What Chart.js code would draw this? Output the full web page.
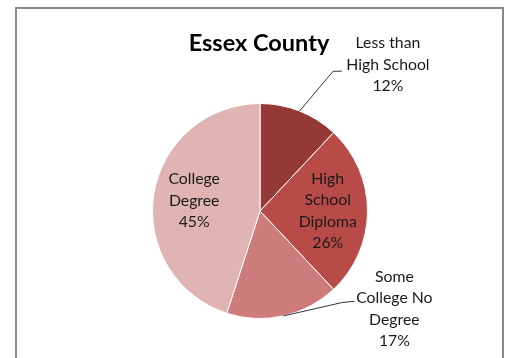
<!DOCTYPE html>
<html>
<head>
<meta charset="utf-8">
<script src="https://cdn.jsdelivr.net/npm/chart.js@4"></script>
<style>
  html, body { margin: 0; padding: 0; background: #fff; }
  #wrap { position: relative; width: 509px; height: 358px; }
  #frame { position: absolute; left: 15px; top: 7px; width: 485px; height: 360px;
           border: 2px solid #8a8a8a; border-bottom: none; box-sizing: content-box; }
  canvas { position: absolute; left: 0; top: 0; }
</style>
</head>
<body>
<div id="wrap">
  <div id="frame"></div>
  <canvas id="c" width="509" height="358"></canvas>
</div>
<script>
const chartTitle = "Essex County";
const categories = [
  ["Less than", "High School"],
  ["High", "School", "Diploma"],
  ["Some", "College No", "Degree"],
  ["College", "Degree"]
];
const shares = [12, 26, 17, 45];
const sliceColors = ["#953937", "#B84A48", "#CE7C7B", "#E0B4B3"];

// label placement (style/layout, not data): inside -> fraction of radius along mid-angle;
// outside -> label centre offset from pie centre (in radii) and leader-line elbow
const labelLayout = [
  { outside: true, dx: 1.19, dy: -1.36, elbow: [0.68, -1.30], end: [0.76, -1.30] },
  { outside: false, r: 0.63 },
  { outside: true, dx: 1.25, dy: 0.91, elbow: [0.77, 0.85], end: [0.88, 0.84] },
  { outside: false, r: 0.62 }
];

const FONT = "Lato, 'Open Sans', sans-serif";
const TEXT = "#1a1a1a";

const labelPlugin = {
  id: 'pieLabels',
  afterDraw(chart) {
    const ctx = chart.ctx;
    const meta = chart.getDatasetMeta(0);
    const total = shares.reduce((a, b) => a + b, 0);
    ctx.save();
    // title
    ctx.fillStyle = "#000";
    ctx.font = "bold 23.5px " + FONT;
    ctx.textAlign = "center";
    ctx.textBaseline = "middle";
    ctx.fillText(chartTitle, 259, 43);

    ctx.font = "15.8px " + FONT;
    const lh = 21.5;
    meta.data.forEach((arc, i) => {
      const p = arc.getProps(['x', 'y', 'startAngle', 'endAngle', 'outerRadius'], true);
      const R = p.outerRadius;
      const mid = (p.startAngle + p.endAngle) / 2;
      const L = labelLayout[i];
      const lines = categories[i].concat([Math.round(shares[i] / total * 100) + "%"]);
      let cx, cy;
      if (L.outside) {
        cx = p.x + L.dx * R;
        cy = p.y + L.dy * R;
        // leader line
        ctx.strokeStyle = "#333";
        ctx.lineWidth = 1;
        ctx.beginPath();
        ctx.moveTo(p.x + Math.cos(mid) * R, p.y + Math.sin(mid) * R);
        ctx.lineTo(p.x + L.elbow[0] * R, p.y + L.elbow[1] * R);
        ctx.lineTo(p.x + L.end[0] * R, p.y + L.end[1] * R);
        ctx.stroke();
      } else {
        cx = p.x + Math.cos(mid) * R * L.r;
        cy = p.y + Math.sin(mid) * R * L.r;
      }
      ctx.fillStyle = TEXT;
      const top = cy - (lines.length - 1) * lh / 2;
      lines.forEach((t, k) => ctx.fillText(t, cx, top + k * lh));
    });
    ctx.restore();
  }
};

new Chart(document.getElementById('c'), {
  type: 'pie',
  data: {
    labels: categories.map(c => c.join(' ')),
    datasets: [{
      data: shares,
      backgroundColor: sliceColors,
      borderColor: "#ffffff",
      borderWidth: 1
    }]
  },
  options: {
    responsive: false,
    animation: false,
    layout: { padding: { left: 152, right: 141, top: 103, bottom: 39 } },
    plugins: {
      legend: { display: false },
      tooltip: { enabled: false },
      title: { display: false }
    }
  },
  plugins: [labelPlugin]
});
</script>
</body>
</html>
